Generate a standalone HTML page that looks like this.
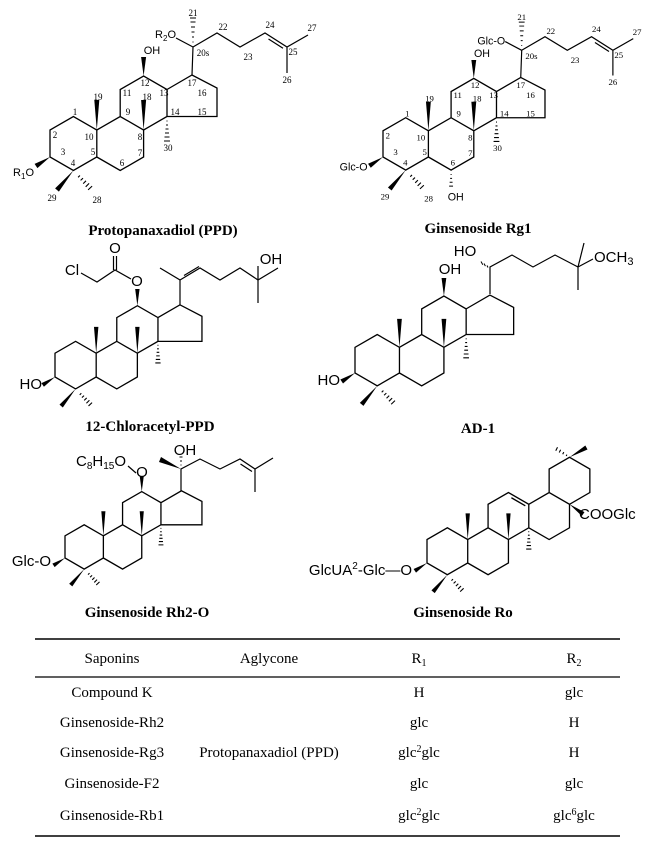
<!DOCTYPE html>
<html><head><meta charset="utf-8"><style>
body{margin:0;background:#fff}
svg{display:block}
.s{font-family:"Liberation Sans",sans-serif}
.r{font-family:"Liberation Serif",serif}
.t{font-family:"Liberation Serif",serif;font-weight:bold;font-size:15px}
</style></head><body>
<svg width="650" height="848" viewBox="0 0 650 848" xmlns="http://www.w3.org/2000/svg">
<defs>
<g id="sk">
<path fill="none" stroke="#000" stroke-width="1.3" vector-effect="non-scaling-stroke" d="M0,0 L0,-27 L23.4,-40.5 L46.8,-27 L46.8,0 L23.4,13.5 Z M46.8,0 L70.2,13.5 L93.6,0 L93.6,-27 L70.2,-40.5 L46.8,-27 M70.2,-40.5 L70.2,-67.5 L93.6,-81 L117,-67.5 L117,-40.5 L93.6,-27 M117,-40.5 L167,-40.5 L167,-69 L142,-82 L117,-67.5"/>
<path fill="none" stroke="#000" stroke-width="1.1" vector-effect="non-scaling-stroke" d="M116.5,-36h1 M116,-32h2 M115.5,-28h3 M115,-24h4 M114.5,-20h5 M114,-16h6 M28.1,20.3L29.9,18.5 M30.6,23.4L33,21.2 M33.2,26.6L36,23.8 M35.7,29.8L39.1,26.4 M38.1,32.9L42.1,29.1"/>
<polygon points="46.8,-27 44.3,-57 49.3,-57"/>
<polygon points="93.6,-27 91.1,-57 96.1,-57"/>
<polygon points="23.4,13.5 5.1,31.4 8.9,34.6"/>
<polygon points="0,0 -12.6,11.1 -15.4,6.9"/>
<polygon points="93.6,-81 91.1,-100 96.1,-100"/>
</g>
<g id="side">
<path fill="none" stroke="#000" stroke-width="1.2" d="M142,-82 L143,-110 M143,-110 L126,-119 M143,-110 L167,-124 L190,-110 L215,-124 L237,-110 L258,-122 M237,-110 L237,-84 M218.5,-118 L233,-108.8"/>
<path fill="none" stroke="#000" stroke-width="1" d="M142.5,-115h1 M142,-120h2 M141.5,-125h3 M141,-130h4 M140.5,-135h5 M140,-139h6"/>
<text x="102" y="-103" class="s" font-size="11" text-anchor="middle">OH</text>
</g>
<g id="lbl" class="r" font-size="9" text-anchor="middle">
<text x="48" y="-57">19</text><text x="25" y="-42">1</text><text x="5" y="-19">2</text><text x="13" y="-2">3</text><text x="23" y="9">4</text><text x="43" y="-2">5</text><text x="39" y="-17">10</text><text x="72" y="9">6</text><text x="90" y="-1">7</text><text x="90" y="-17">8</text><text x="78" y="-42">9</text><text x="77" y="-61">11</text><text x="97" y="-57">18</text><text x="95" y="-71">12</text><text x="114" y="-61">13</text><text x="125" y="-42">14</text><text x="152" y="-42">15</text><text x="152" y="-61">16</text><text x="142" y="-71">17</text><text x="118" y="-6">30</text><text x="2" y="44">29</text><text x="47" y="46">28</text><text x="153" y="-101">20s</text><text x="143" y="-141">21</text><text x="173" y="-127">22</text><text x="198" y="-97">23</text><text x="220" y="-129">24</text><text x="243" y="-102">25</text><text x="237" y="-74">26</text><text x="262" y="-126">27</text>
</g>
</defs>

<!-- PPD -->
<g transform="translate(50,157)">
<use href="#sk"/><use href="#side"/><use href="#lbl"/>
<text x="-16" y="19" class="s" font-size="11" text-anchor="end">R<tspan font-size="8" dy="3">1</tspan><tspan dy="-3">O</tspan></text>
<text x="126" y="-119" class="s" font-size="11" text-anchor="end">R<tspan font-size="8" dy="3">2</tspan><tspan dy="-3">O</tspan></text>
</g>
<text x="163" y="235" class="t" text-anchor="middle">Protopanaxadiol (PPD)</text>

<!-- Rg1 -->
<g transform="translate(383,157) scale(0.97)">
<use href="#sk"/><use href="#side"/><use href="#lbl"/>
<text x="-16" y="14" class="s" font-size="11" text-anchor="end">Glc-O</text>
<text x="126" y="-116" class="s" font-size="11" text-anchor="end">Glc-O</text>
<path fill="none" stroke="#000" stroke-width="1" d="M69.7,18h1 M69.2,22h2 M68.7,26h3 M68.2,30h4"/>
<text x="75" y="45" class="s" font-size="11" text-anchor="middle">OH</text>
</g>
<text x="478" y="233" class="t" text-anchor="middle">Ginsenoside Rg1</text>

<!-- 12-Chloracetyl-PPD -->
<g transform="translate(55,377) scale(0.88)"><use href="#sk"/></g>
<text x="42" y="389" class="s" font-size="15" text-anchor="end">HO</text>
<g fill="none" stroke="#000" stroke-width="1.2">
<path d="M81,273 L97,282 L115,270 L131,279 M113.5,270 L113.5,256 M116.5,270 L116.5,256"/>
<path d="M180,305 L180,280 L160,268 M180,280 L200,268 L220,280 L240,268 L258,280 L278,268 M258,280 L258,303 M258,280 L258,266 M184,275.5 L199,266.5"/>
</g>
<text x="72" y="275" class="s" font-size="15" text-anchor="middle">Cl</text>
<text x="115" y="253" class="s" font-size="15" text-anchor="middle">O</text>
<text x="137" y="286" class="s" font-size="15" text-anchor="middle">O</text>
<text x="271" y="264" class="s" font-size="15" text-anchor="middle">OH</text>
<text x="150" y="431" class="t" text-anchor="middle">12-Chloracetyl-PPD</text>

<!-- AD-1 -->
<g transform="translate(355,373) scale(0.95)"><use href="#sk"/></g>
<text x="340" y="385" class="s" font-size="15" text-anchor="end">HO</text>
<g fill="none" stroke="#000" stroke-width="1.2">
<path d="M490,294 L490,267 L512,255 L533,267 L555,255 L578,267 L584,243 M578,267 L578,290 M578,267 L593,259"/>
<path stroke-width="1" d="M487,265.5l1,2 M484,263.5l1.4,2.6 M481,261.5l1.8,3.2"/>
</g>
<text x="450" y="274" class="s" font-size="15" text-anchor="middle">OH</text>
<text x="465" y="256" class="s" font-size="15" text-anchor="middle">HO</text>
<text x="594" y="262" class="s" font-size="15">OCH<tspan font-size="11" dy="3">3</tspan></text>
<text x="478" y="433" class="t" text-anchor="middle">AD-1</text>

<!-- Rh2-O -->
<g transform="translate(65,558) scale(0.82)"><use href="#sk"/></g>
<text x="51" y="566" class="s" font-size="15" text-anchor="end">Glc-O</text>
<g fill="none" stroke="#000" stroke-width="1.2">
<path d="M128,466 L136,473 M181,491 L181,469 L200,459 L220,469 L240,459 L255,469 L273,458 M255,469 L255,492 M240.5,464 L252,471.5"/>
<path stroke-width="1" d="M180.5,465h1 M180,461h2 M179.5,457h3"/>
</g>
<polygon points="181,469 159,462 161,457"/>
<text x="101" y="466" class="s" font-size="15" text-anchor="middle">C<tspan font-size="10" dy="3">8</tspan><tspan dy="-3">H</tspan><tspan font-size="10" dy="3">15</tspan><tspan dy="-3">O</tspan></text>
<text x="142" y="477" class="s" font-size="15" text-anchor="middle">O</text>
<text x="185" y="455" class="s" font-size="15" text-anchor="middle">OH</text>
<text x="147" y="617" class="t" text-anchor="middle">Ginsenoside Rh2-O</text>

<!-- Ro -->
<g transform="translate(427,563) scale(0.87)">
<path fill="none" stroke="#000" stroke-width="1.3" vector-effect="non-scaling-stroke" d="M0,0 L0,-27 L23.4,-40.5 L46.8,-27 L46.8,0 L23.4,13.5 Z M46.8,0 L70.2,13.5 L93.6,0 L93.6,-27 L70.2,-40.5 L46.8,-27 M70.2,-40.5 L70.2,-67.5 L93.6,-81 L117,-67.5 L117,-40.5 L93.6,-27 M97,-75 L113,-65.8 M117,-40.5 L140.4,-27 L163.8,-40.5 L163.8,-67.5 L140.4,-81 L117,-67.5 M140.4,-81 L140.4,-108 L163.8,-121.5 L187.2,-108 L187.2,-81 L163.8,-67.5"/>
<path fill="none" stroke="#000" stroke-width="1.1" vector-effect="non-scaling-stroke" d="M116.5,-36h1 M116,-32h2 M115.5,-28h3 M115,-24h4 M114.5,-20h5 M114,-16h6 M28.1,20.3L29.9,18.5 M30.6,23.4L33,21.2 M33.2,26.6L36,23.8 M35.7,29.8L39.1,26.4 M38.1,32.9L42.1,29.1 M160,-123l0.8,-1.6 M156,-125l1.2,-2.4 M152,-127l1.6,-3.2 M148,-129l2,-4"/>
<polygon points="46.8,-27 44.3,-57 49.3,-57"/>
<polygon points="93.6,-27 91.1,-57 96.1,-57"/>
<polygon points="23.4,13.5 5.1,31.4 8.9,34.6"/>
<polygon points="0,0 -12.6,11.1 -15.4,6.9"/>
<polygon points="163.8,-67.5 178,-54 181,-58.5"/>
<polygon points="163.8,-121.5 182,-135 184.5,-130.5"/>
</g>
<text x="412" y="575" class="s" font-size="15" text-anchor="end">GlcUA<tspan font-size="10" dy="-6">2</tspan><tspan dy="6">-Glc—O</tspan></text>
<text x="579" y="519" class="s" font-size="15">COOGlc</text>
<text x="463" y="617" class="t" text-anchor="middle">Ginsenoside Ro</text>

<!-- Table -->
<g stroke="#000">
<line x1="35" y1="639" x2="620" y2="639" stroke-width="1.5"/>
<line x1="35" y1="677" x2="620" y2="677" stroke-width="1.2"/>
<line x1="35" y1="836" x2="620" y2="836" stroke-width="1.5"/>
</g>
<g class="r" font-size="15" text-anchor="middle">
<text x="112" y="663">Saponins</text><text x="269" y="663">Aglycone</text>
<text x="419" y="663">R<tspan font-size="10" dy="3">1</tspan></text><text x="574" y="663">R<tspan font-size="10" dy="3">2</tspan></text>
<text x="112" y="697">Compound K</text><text x="419" y="697">H</text><text x="574" y="697">glc</text>
<text x="112" y="727">Ginsenoside-Rh2</text><text x="419" y="727">glc</text><text x="574" y="727">H</text>
<text x="112" y="757">Ginsenoside-Rg3</text><text x="269" y="757">Protopanaxadiol (PPD)</text><text x="419" y="757">glc<tspan font-size="10" dy="-5">2</tspan><tspan dy="5">glc</tspan></text><text x="574" y="757">H</text>
<text x="112" y="788">Ginsenoside-F2</text><text x="419" y="788">glc</text><text x="574" y="788">glc</text>
<text x="112" y="820">Ginsenoside-Rb1</text><text x="419" y="820">glc<tspan font-size="10" dy="-5">2</tspan><tspan dy="5">glc</tspan></text><text x="574" y="820">glc<tspan font-size="10" dy="-5">6</tspan><tspan dy="5">glc</tspan></text>
</g>
</svg>
</body></html>
